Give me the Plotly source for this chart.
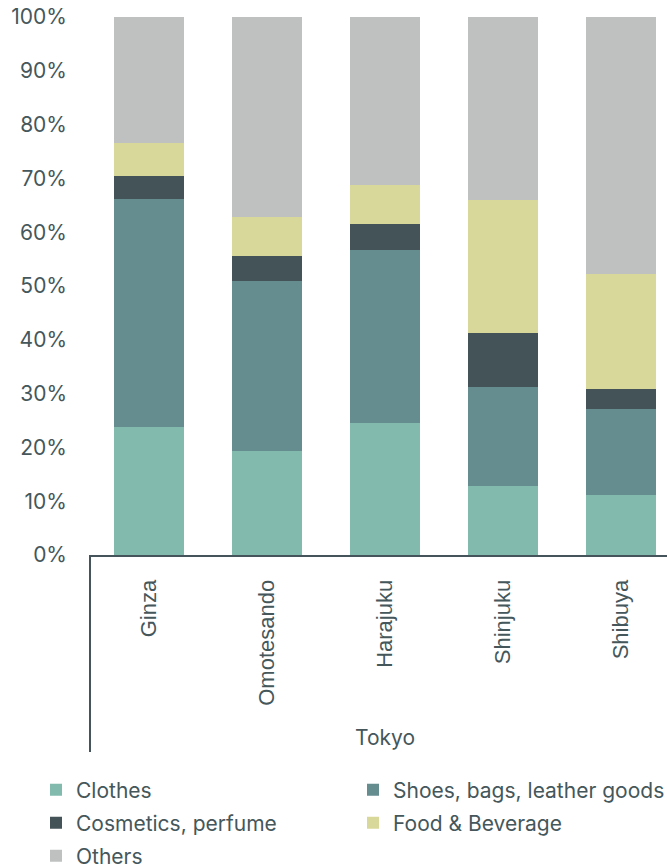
import plotly.graph_objects as go

# Retail floor-space mix by shopping district (share of total, %)
districts = ["Ginza", "Omotesando", "Harajuku", "Shinjuku", "Shibuya"]
region_label = "Tokyo"

clothes = [23.7, 19.3, 24.5, 12.8, 11.2]
shoes_bags = [42.5, 31.6, 32.2, 18.4, 15.9]
cosmetics = [4.2, 4.7, 4.8, 10.1, 3.8]
food_bev = [6.2, 7.2, 7.3, 24.7, 21.3]
others = [23.4, 37.2, 31.2, 34.0, 47.8]

series_names = ["Clothes", "Shoes, bags, leather goods", "Cosmetics, perfume",
                "Food & Beverage", "Others"]
series_values = [clothes, shoes_bags, cosmetics, food_bev, others]
series_colors = ["#82bbad", "#658d90", "#435357", "#d9d89b", "#bfc1c0"]

y_ticks = [0, 10, 20, 30, 40, 50, 60, 70, 80, 90, 100]

TEXT = "#45575b"
AXIS = "#44545a"
GEO_FONT = "Inter"

W, H = 667, 868
ML, MT = 90, 17
PLOT_H = 538
MB = H - MT - PLOT_H


def py(px):
    """Pixel row -> paper y."""
    return 1 - (px - MT) / PLOT_H


def pxp(px):
    """Pixel column -> paper x."""
    return (px - ML) / (W - ML)


# each entry gets its own legend so the two-column layout can be placed freely
legend_ids = ["legend", "legend2", "legend3", "legend4", "legend5"]
legend_pos = [(36, 790), (353, 790), (36, 823), (353, 823), (36, 856)]

fig = go.Figure()
for name, vals, col, lid in zip(series_names, series_values, series_colors, legend_ids):
    fig.add_trace(go.Bar(
        x=districts, y=vals, name=name,
        marker=dict(color=col, line=dict(width=0)),
        legend=lid,
    ))

layout_legends = {}
for lid, (lx, ly) in zip(legend_ids, legend_pos):
    layout_legends[lid] = dict(
        x=pxp(lx), y=py(ly), xanchor="left", yanchor="middle",
        orientation="v", bgcolor="rgba(0,0,0,0)", borderwidth=0,
        font=dict(family=GEO_FONT, size=21, color=TEXT),
    )

fig.update_layout(
    width=W, height=H,
    margin=dict(l=ML, r=0, t=MT, b=MB, pad=0, autoexpand=False),
    barmode="stack",
    bargap=0.415,
    plot_bgcolor="white", paper_bgcolor="white",
    showlegend=True,
    **layout_legends,
)

fig.update_xaxes(
    range=[-0.5, 4.39],
    showline=True, linecolor=AXIS, linewidth=2,
    showgrid=False, zeroline=False, ticks="",
    tickangle=-90,
    tickfont=dict(family="Liberation Sans", size=22, color=TEXT),
    ticklabelstandoff=14,
)
fig.update_yaxes(
    range=[0, 100],
    tickvals=y_ticks, ticktext=[f"{v}%" for v in y_ticks],
    showgrid=False, zeroline=False, showline=False, ticks="",
    tickfont=dict(family=GEO_FONT, size=21, color=TEXT),
    ticklabelstandoff=22,
)

# group border on the left of the category axis
fig.add_shape(type="line", xref="paper", yref="paper",
              x0=0, x1=0, y0=0, y1=py(752),
              line=dict(color=AXIS, width=2))

# group label under the district names
fig.add_annotation(text=region_label, xref="x", yref="paper",
                   x=2, y=py(737), showarrow=False,
                   xanchor="center", yanchor="middle",
                   font=dict(family=GEO_FONT, size=21, color=TEXT))

fig.write_html("out.html")
